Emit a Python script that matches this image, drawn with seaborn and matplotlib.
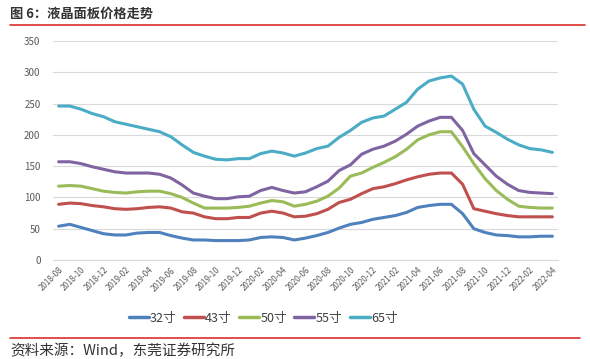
import matplotlib
matplotlib.use("Agg")
import matplotlib.pyplot as plt
import pandas as pd
import numpy as np
import seaborn as sns
from matplotlib.lines import Line2D

months = pd.date_range("2018-08-01", "2022-04-01", freq="MS").strftime("%Y-%m").tolist()

s32 = [54, 57, 52, 47, 42, 40, 40, 43, 44, 44, 39, 35, 32, 32, 31, 31, 31, 32, 36, 37, 36, 32,
       35, 39, 44, 51, 57, 60, 65, 68, 71, 76, 84, 87, 89, 89, 74, 50, 44, 40, 39, 37, 37, 38, 38]
s43 = [89, 91, 90, 87, 85, 82, 81, 82, 84, 85, 83, 77, 75, 69, 66, 66, 68, 68, 75, 78, 75, 69,
       70, 74, 81, 92, 97, 106, 114, 117, 122, 128, 133, 137, 139, 139, 121, 82, 78, 74, 71, 69, 69, 69, 69]
s50 = [118, 119, 118, 114, 110, 108, 107, 109, 110, 110, 106, 100, 91, 83, 83, 83, 84, 86, 91, 95, 93, 86,
       89, 94, 102, 115, 134, 139, 148, 156, 165, 177, 192, 200, 205, 205, 181, 154, 130, 111, 97, 86, 84, 83, 83]
s55 = [157, 157, 154, 149, 145, 141, 139, 139, 139, 137, 131, 120, 107, 102, 98, 98, 101, 102, 111, 116, 111, 107,
       109, 117, 126, 143, 152, 169, 177, 182, 190, 201, 214, 222, 228, 228, 207, 170, 152, 134, 121, 111, 108, 107, 106]
s65 = [246, 246, 241, 234, 229, 221, 217, 213, 209, 205, 197, 184, 172, 166, 161, 160, 162, 162, 170, 174, 171, 166,
       171, 178, 182, 196, 207, 220, 227, 230, 241, 252, 273, 286, 291, 294, 281, 241, 214, 204, 193, 184, 178, 176, 172]

sizes = ["32寸", "43寸", "50寸", "55寸", "65寸"]
colors = ["#4F81BD", "#C0504D", "#9BBB59", "#8064A2", "#4BACC6"]

frames = []
for name, vals in zip(sizes, [s32, s43, s50, s55, s65]):
    frames.append(pd.DataFrame({"idx": np.arange(len(months)), "price": vals, "size": name}))
df = pd.concat(frames)

sns.set_style("white")
plt.rcParams['font.family'] = ['Noto Sans CJK SC', 'DejaVu Sans']

fig = plt.figure(figsize=(5.9, 3.59), dpi=100)
ax = fig.add_axes([53/590, 1 - 260/359, 505/590, 219/359])

sns.lineplot(data=df, x="idx", y="price", hue="size", palette=colors, hue_order=sizes,
             linewidth=2.2, ax=ax, legend=False)

ax.set_xlim(-0.5, len(months) - 0.5)
ax.set_ylim(0, 350)
ax.set_yticks(range(0, 351, 50))
ax.yaxis.grid(True, color="#d9d9d9", linewidth=0.8)
ax.set_axisbelow(True)
for sp in ["top", "right", "left"]:
    ax.spines[sp].set_visible(False)
ax.spines["bottom"].set_color("#d9d9d9")

# excel style category axis: marks between months, labels on every other month
ax.set_xticks(np.arange(0, len(months), 2))
ax.set_xticklabels(months[::2], rotation=45, ha="right", va="top", rotation_mode="anchor")
ax.set_xticks(np.arange(-0.5, len(months), 2), minor=True)
ax.tick_params(axis="x", which="major", length=0, labelsize=5.8, labelcolor="#595959", pad=4)
ax.tick_params(axis="x", which="minor", length=4, color="#d9d9d9", direction="out")
ax.tick_params(axis="y", length=0, labelsize=7, labelcolor="#595959", pad=9)
ax.set_xlabel("")
ax.set_ylabel("")

handles = [Line2D([], [], color=c, linewidth=2.5) for c in colors]
fig.legend(handles, sizes, loc="center", bbox_to_anchor=(263/590, 1 - 318/359), ncol=5,
           frameon=False, fontsize=9, handlelength=1.6, handletextpad=0.1, columnspacing=0.6,
           labelcolor="#404040")

fig.text(10/590, 1 - 14/359, "图 6：液晶面板价格走势", fontsize=9.5, fontweight="bold",
         color="#333333", va="center", ha="left")
fig.add_artist(Line2D([10/590, 585/590], [1 - 25/359, 1 - 25/359], color="#D9302C", linewidth=1.2))
fig.add_artist(Line2D([10/590, 580/590], [1 - 338/359, 1 - 338/359], color="#D9302C", linewidth=1.2))
fig.text(10/590, 1 - 351/359, "资料来源：Wind，东莞证券研究所", fontsize=10.5, color="#333333",
         va="center", ha="left")

fig.savefig("out.png", dpi=100)
